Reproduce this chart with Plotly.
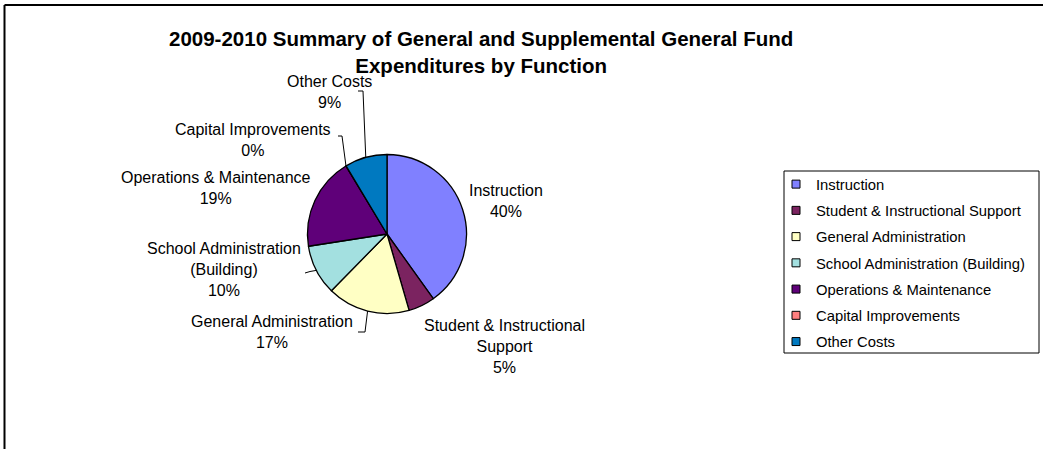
import math
import plotly.graph_objects as go

# ---- data ----
categories = [
    "Instruction",
    "Student & Instructional Support",
    "General Administration",
    "School Administration (Building)",
    "Operations & Maintenance",
    "Capital Improvements",
    "Other Costs",
]
shares = [40.1, 5.4, 16.8, 10.2, 18.8, 0.05, 8.6]
colors = ["#8080FF", "#7B2360", "#FFFFC4", "#A3E0E0", "#5F0079", "#FF8080", "#0079C0"]
# category names as they are wrapped next to the pie
slice_label_lines = [
    "Instruction",
    "Student & Instructional<br>Support",
    "General Administration",
    "School Administration<br>(Building)",
    "Operations & Maintenance",
    "Capital Improvements",
    "Other Costs",
]
title_text = "2009-2010 Summary of General and Supplemental General Fund<br>Expenditures by Function"

# ---- layout (pixels) ----
W, H = 1048, 449
CX, CY, R = 387, 234, 79.5
FONT = "Arial, Liberation Sans, sans-serif"
LABEL_SIZE = 16
LINE_H = 21
# label block centre x and first-line centre y for each slice
label_pos = [(506, 191), (504, 325), (272, 321), (224, 248), (216, 177), (253, 129), (329, 81)]
# leader line elbows (label side) for slices whose labels sit away from the pie
leader_elbows = {
    6: [(358, 91), (363, 91)],
    5: [(338, 136), (342, 136)],
    3: [(305, 273), (310, 271.5)],
    2: [(358, 332), (365, 332)],
}


def px(x):
    return x / W


def py(y):
    return 1 - y / H


fig = go.Figure()

fig.add_trace(go.Pie(
    labels=categories,
    values=shares,
    sort=False,
    direction="clockwise",
    rotation=0,
    marker=dict(colors=colors, line=dict(color="black", width=1.3)),
    textinfo="none",
    hoverinfo="label+percent",
    showlegend=False,
    domain=dict(x=[px(CX - R), px(CX + R)], y=[py(CY + R), py(CY - R)]),
))

# legend entries, one group each so the rows can be spaced out
for name, col in zip(categories, colors):
    fig.add_trace(go.Scatter(
        x=[None], y=[None], mode="markers", name=name, legendgroup=name,
        marker=dict(symbol="square", size=8, color=col, line=dict(color="black", width=1)),
    ))

total = sum(shares)
annotations = []
shapes = []
cum = 0.0
for i, v in enumerate(shares):
    mid = (cum + v / 2) / total * 2 * math.pi
    cum += v
    pct = round(v / total * 100)
    lx, ly = label_pos[i]
    annotations.append(dict(
        x=px(lx), y=py(ly - LINE_H / 2), xref="paper", yref="paper",
        xanchor="center", yanchor="top", showarrow=False, align="center",
        text=f"{slice_label_lines[i]}<br>{pct}%",
        font=dict(family=FONT, size=LABEL_SIZE, color="black"),
    ))
    if i in leader_elbows:
        ex = CX + R * math.sin(mid)
        ey = CY - R * math.cos(mid)
        pts = leader_elbows[i] + [(ex, ey)]
        path = "M " + " L ".join(f"{px(a)},{py(b)}" for a, b in pts)
        shapes.append(dict(type="path", path=path, xref="paper", yref="paper",
                           line=dict(color="black", width=1)))

# title, two centred lines
annotations.append(dict(x=px(481), y=py(25), xref="paper", yref="paper",
                        xanchor="center", yanchor="top", showarrow=False, align="center",
                        text=f"<b>{title_text}</b>",
                        font=dict(family=FONT, size=20.5, color="black")))

# chart-area frame (left and top edges)
shapes.append(dict(type="line", xref="paper", yref="paper",
                   x0=px(4.5), x1=px(4.5), y0=py(5), y1=py(449), line=dict(color="black", width=2)))
shapes.append(dict(type="line", xref="paper", yref="paper",
                   x0=px(4.5), x1=px(1043), y0=py(5), y1=py(5), line=dict(color="black", width=2)))
# legend box
shapes.append(dict(type="rect", xref="paper", yref="paper",
                   x0=px(784), x1=px(1039), y0=py(171), y1=py(353),
                   line=dict(color="black", width=1)))

fig.update_layout(
    width=W, height=H,
    margin=dict(l=0, r=0, t=0, b=0),
    paper_bgcolor="white", plot_bgcolor="white",
    xaxis=dict(visible=False), yaxis=dict(visible=False),
    annotations=annotations,
    shapes=shapes,
    legend=dict(
        x=px(776), y=py(168), xanchor="left", yanchor="top",
        font=dict(family=FONT, size=14.8, color="black"),
        tracegroupgap=4, itemwidth=30, bgcolor="rgba(0,0,0,0)",
        traceorder="grouped",
    ),
)

fig.write_html("out.html")
